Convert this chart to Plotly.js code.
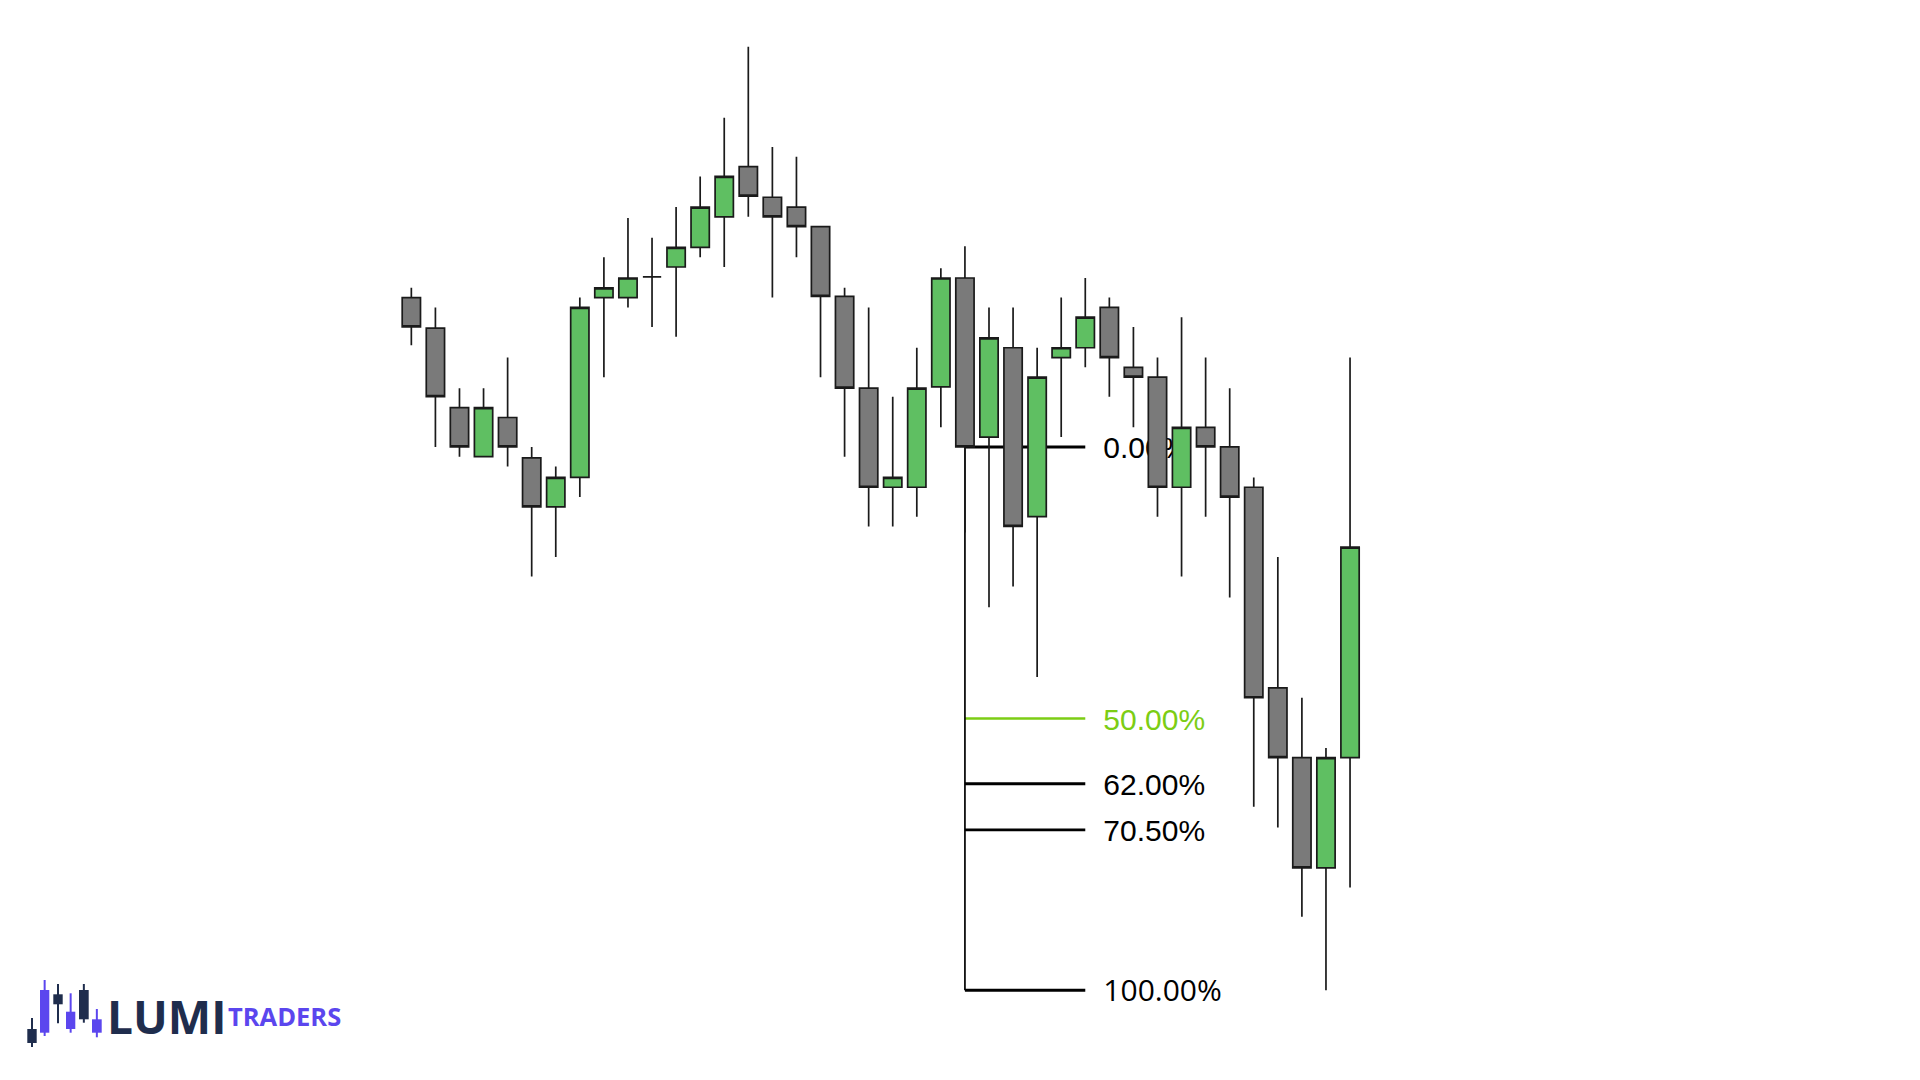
<!DOCTYPE html>
<html>
<head>
<meta charset="utf-8">
<script src="https://cdn.plot.ly/plotly-3.0.1.min.js"></script>
<style>
  html, body { margin: 0; padding: 0; background: #ffffff; }
  #chart { width: 1920px; height: 1080px; }
</style>
</head>
<body>
<div id="chart"></div>
<script>
// ---- data ----
const bars  = [1,2,3,4,5,6,7,8,9,10,11,12,13,14,15,16,17,18,19,20,21,22,23,24,25,26,27,28,29,30,31,32,33,34,35,36,37,38,39,40];
const open  = [65.7,63.2,56.7,52.7,55.9,52.6,48.6,51.0,65.7,65.7,67.4,68.2,69.8,72.3,76.4,73.9,73.1,71.5,65.8,58.3,50.2,50.2,58.4,67.3,54.3,61.6,47.8,60.8,61.6,64.9,60.0,59.2,50.2,55.1,53.5,50.2,33.8,28.1,19.1,28.1];
const high  = [66.5,64.9,58.3,58.3,60.8,53.5,51.9,65.7,69.0,72.2,70.6,73.1,75.6,80.4,86.2,78.0,77.2,71.5,66.5,64.9,57.6,61.6,68.1,69.9,64.9,64.9,61.6,65.7,67.3,65.7,63.3,60.8,64.1,60.8,58.3,51.0,44.5,33.0,28.9,60.8];
const low   = [61.8,53.5,52.7,52.7,51.9,42.9,44.5,49.4,59.2,64.9,63.3,62.5,69.0,68.2,72.3,65.7,69.0,59.2,52.7,47.0,47.0,47.8,55.1,46.5,40.4,42.1,34.7,54.3,60.0,57.6,55.1,47.8,42.9,47.8,41.2,24.1,22.4,15.1,9.1,17.5];
const close = [63.3,57.6,53.5,56.7,53.5,48.6,51.0,64.9,66.5,67.3,67.4,69.8,73.1,75.6,74.0,72.3,71.5,65.8,58.3,50.2,51.0,58.3,67.3,53.5,62.4,47.0,59.2,61.6,64.1,60.8,59.2,50.2,55.1,53.5,49.4,33.0,28.1,19.1,28.1,45.3];

// Fibonacci retracement drawn from 0% to 100%
const fibStartPrice = 53.5;
const fibEndPrice   = 9.1;
const fibStartBar   = 24;
const fibEndBar     = 29;
const fibLabelBar   = 29.75;
const fibRatios     = [0, 0.5, 0.62, 0.705, 1];
const fibLabels     = ["0.00%", "50.00%", "62.00%", "70.50%", "100.00%"];

// ---- styling ----
const fibColors = ["#000000", "#7ccd14", "#000000", "#000000", "#000000"];
const fibWidths = [3.0, 2.4, 3.0, 2.6, 3.0];
const fibFonts  = ["Liberation Sans, Arial, sans-serif", "Liberation Sans, Arial, sans-serif",
                   "Liberation Sans, Arial, sans-serif", "Liberation Sans, Arial, sans-serif",
                   "Open Sans, sans-serif"];
const labelNudge = -0.3;   // small vertical text offset (price units)

const fibPrices = fibRatios.map(r => fibStartPrice - r * (fibStartPrice - fibEndPrice));

const xRange = [-16.09, 63.68];
const yRange = [1.76, 90.02];

const shapes = [];
fibPrices.forEach((p, i) => {
  shapes.push({
    type: "line", xref: "x", yref: "y", layer: "below",
    x0: fibStartBar, x1: fibEndBar, y0: p, y1: p,
    line: { color: fibColors[i], width: fibWidths[i] }
  });
});
shapes.push({
  type: "line", xref: "x", yref: "y", layer: "below",
  x0: fibStartBar, x1: fibStartBar, y0: fibStartPrice, y1: fibEndPrice,
  line: { color: "#000000", width: 1.7 }
});

// ---- logo (decorative) ----
const W = 1920, H = 1080;
const px = v => v / W, py = v => 1 - v / H;
const navy = "#1f2d4d", purple = "#5b46ee";
const logoCandles = [
  // [x0, x1, bodyTop, bodyBottom, wickTop, wickBottom, color]
  [27.3, 36.7, 1029, 1043, 1018, 1047, navy],
  [40.0, 49.3, 990, 1032.7, 980, 1036, purple],
  [53.3, 62.7, 994.3, 1004.3, 984, 1023.3, navy],
  [66.0, 75.3, 1011.7, 1029, 993.3, 1032.7, purple],
  [79.0, 88.7, 990, 1019.3, 984, 1022.7, navy],
  [92.0, 101.7, 1019.3, 1032.7, 1009, 1037.3, purple]
];
logoCandles.forEach(c => {
  const xm = (c[0] + c[1]) / 2;
  shapes.push({ type: "line", xref: "paper", yref: "paper", layer: "above",
    x0: px(xm), x1: px(xm), y0: py(c[4]), y1: py(c[5]),
    line: { color: c[6], width: 2 } });
  shapes.push({ type: "rect", xref: "paper", yref: "paper", layer: "above",
    x0: px(c[0]), x1: px(c[1]), y0: py(c[2]), y1: py(c[3]),
    fillcolor: c[6], line: { width: 0 } });
});

const annotations = [
  { xref: "paper", yref: "paper", x: px(105), y: py(1016), xanchor: "left", yanchor: "middle",
    text: "LUMI", showarrow: false,
    font: { family: "Open Sans, sans-serif", size: 46, color: navy, weight: 700 } },
  { xref: "paper", yref: "paper", x: px(226), y: py(1015.5), xanchor: "left", yanchor: "middle",
    text: "TRADERS", showarrow: false,
    font: { family: "Open Sans, sans-serif", size: 25.5, color: purple, weight: 700 } }
];

const labelTrace = {
  type: "scatter", mode: "text", xaxis: "x", yaxis: "y",
  x: fibPrices.map(() => fibLabelBar), y: fibPrices.map(p => p + labelNudge),
  text: fibLabels, textposition: "middle right",
  textfont: { size: 30, color: fibColors, family: fibFonts },
  hoverinfo: "skip", showlegend: false
};

const candleTrace = {
  type: "candlestick", xaxis: "x2", yaxis: "y2",
  x: bars, open: open, high: high, low: low, close: close,
  increasing: { line: { color: "#1a1a1a", width: 1.7 }, fillcolor: "#5fbf62" },
  decreasing: { line: { color: "#1a1a1a", width: 1.7 }, fillcolor: "#7a7a7a" },
  whiskerwidth: 0, showlegend: false, hoverinfo: "skip"
};

const axisCommon = { visible: false, showgrid: false, zeroline: false, fixedrange: true, type: "linear" };

const layout = {
  width: W, height: H,
  margin: { l: 0, r: 0, t: 0, b: 0, pad: 0 },
  paper_bgcolor: "#ffffff", plot_bgcolor: "#ffffff",
  showlegend: false,
  boxgap: 0.24, boxgroupgap: 0,
  xaxis:  Object.assign({}, axisCommon, { range: xRange, domain: [0, 1], anchor: "y" }),
  yaxis:  Object.assign({}, axisCommon, { range: yRange, domain: [0, 1], anchor: "x" }),
  xaxis2: Object.assign({}, axisCommon, { range: xRange, overlaying: "x", anchor: "y2", rangeslider: { visible: false } }),
  yaxis2: Object.assign({}, axisCommon, { range: yRange, overlaying: "y", anchor: "x2" }),
  shapes: shapes,
  annotations: annotations
};

Plotly.newPlot("chart", [labelTrace, candleTrace], layout, { staticPlot: true, displayModeBar: false });
</script>
</body>
</html>
